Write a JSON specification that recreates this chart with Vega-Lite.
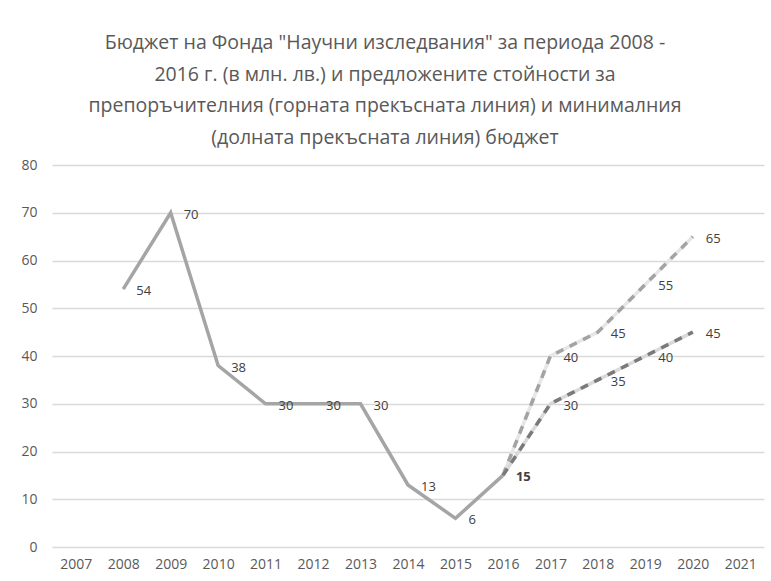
{
  "$schema": "https://vega.github.io/schema/vega-lite/v6.json",
  "autosize": "none",
  "width": 712,
  "height": 382,
  "padding": {"left": 52, "top": 165, "right": 7, "bottom": 34},
  "background": "white",
  "config": {
    "view": {"stroke": null},
    "font": "Open Sans"
  },
  "title": {
    "text": ["Бюджет на Фонда \"Научни изследвания\" за периода 2008 -", "2016 г. (в млн. лв.) и предложените стойности за", "препоръчителния (горната прекъсната линия) и минималния", "(долната прекъсната линия) бюджет"],
    "font": "Open Sans",
    "fontSize": 19.5,
    "fontWeight": "normal",
    "color": "#595959",
    "lineHeight": 31.5,
    "anchor": "middle",
    "dx": -23,
    "offset": 10
  },
  "data": {
    "values": [
      {"series": "main", "year": "2008", "value": 54},
      {"series": "main", "year": "2009", "value": 70},
      {"series": "main", "year": "2010", "value": 38},
      {"series": "main", "year": "2011", "value": 30},
      {"series": "main", "year": "2012", "value": 30},
      {"series": "main", "year": "2013", "value": 30},
      {"series": "main", "year": "2014", "value": 13},
      {"series": "main", "year": "2015", "value": 6},
      {"series": "main", "year": "2016", "value": 15},
      {"series": "upper", "year": "2016", "value": 15},
      {"series": "upper", "year": "2017", "value": 40},
      {"series": "upper", "year": "2018", "value": 45},
      {"series": "upper", "year": "2019", "value": 55},
      {"series": "upper", "year": "2020", "value": 65},
      {"series": "lower", "year": "2016", "value": 15},
      {"series": "lower", "year": "2017", "value": 30},
      {"series": "lower", "year": "2018", "value": 35},
      {"series": "lower", "year": "2019", "value": 40},
      {"series": "lower", "year": "2020", "value": 45}
    ]
  },
  "encoding": {
    "x": {
      "field": "year",
      "type": "ordinal",
      "scale": {"type": "point", "padding": 0.5, "domain": ["2007","2008","2009","2010","2011","2012","2013","2014","2015","2016","2017","2018","2019","2020","2021"]},
      "axis": {"title": null, "labelAngle": 0, "domain": false, "ticks": false, "labelPadding": 10, "grid": false, "labelFont": "Open Sans", "labelFontSize": 14, "labelColor": "#595959"}
    },
    "y": {
      "field": "value",
      "type": "quantitative",
      "scale": {"domain": [0, 80], "nice": false},
      "axis": {"title": null, "values": [0,10,20,30,40,50,60,70,80], "domain": false, "ticks": false, "labelPadding": 15, "gridColor": "#d9d9d9", "gridWidth": 1.5, "labelFont": "Open Sans", "labelFontSize": 14, "labelColor": "#595959"}
    }
  },
  "layer": [
    {
      "transform": [{"filter": "datum.series == 'main'"}],
      "mark": {"type": "line", "stroke": "#a5a5a5", "strokeWidth": 3.5, "strokeJoin": "miter"}
    },
    {
      "transform": [{"filter": "datum.series == 'upper'"}],
      "mark": {"type": "line", "stroke": "#e6e6e6", "strokeWidth": 3.5}
    },
    {
      "transform": [{"filter": "datum.series == 'upper'"}],
      "mark": {"type": "line", "stroke": "#a3a3a3", "strokeWidth": 3.5, "strokeDash": [8, 7]}
    },
    {
      "transform": [{"filter": "datum.series == 'lower'"}],
      "mark": {"type": "line", "stroke": "#d9d9d9", "strokeWidth": 3.5}
    },
    {
      "transform": [{"filter": "datum.series == 'lower'"}],
      "mark": {"type": "line", "stroke": "#7a7a7a", "strokeWidth": 3.5, "strokeDash": [8, 7]}
    },
    {
      "transform": [{"filter": "datum.year != '2016'"}],
      "mark": {"type": "text", "align": "left", "baseline": "middle", "dx": 13, "dy": 2, "fontSize": 13, "color": "#404040", "font": "Open Sans"},
      "encoding": {
        "text": {"field": "value", "type": "quantitative"}
      }
    },
    {
      "transform": [{"filter": "datum.series == 'main' && datum.year == '2016'"}],
      "mark": {"type": "text", "align": "left", "baseline": "middle", "dx": 13, "dy": 2, "fontSize": 13, "fontWeight": "bold", "color": "#404040", "font": "Open Sans"},
      "encoding": {
        "text": {"field": "value", "type": "quantitative"}
      }
    }
  ]
}
